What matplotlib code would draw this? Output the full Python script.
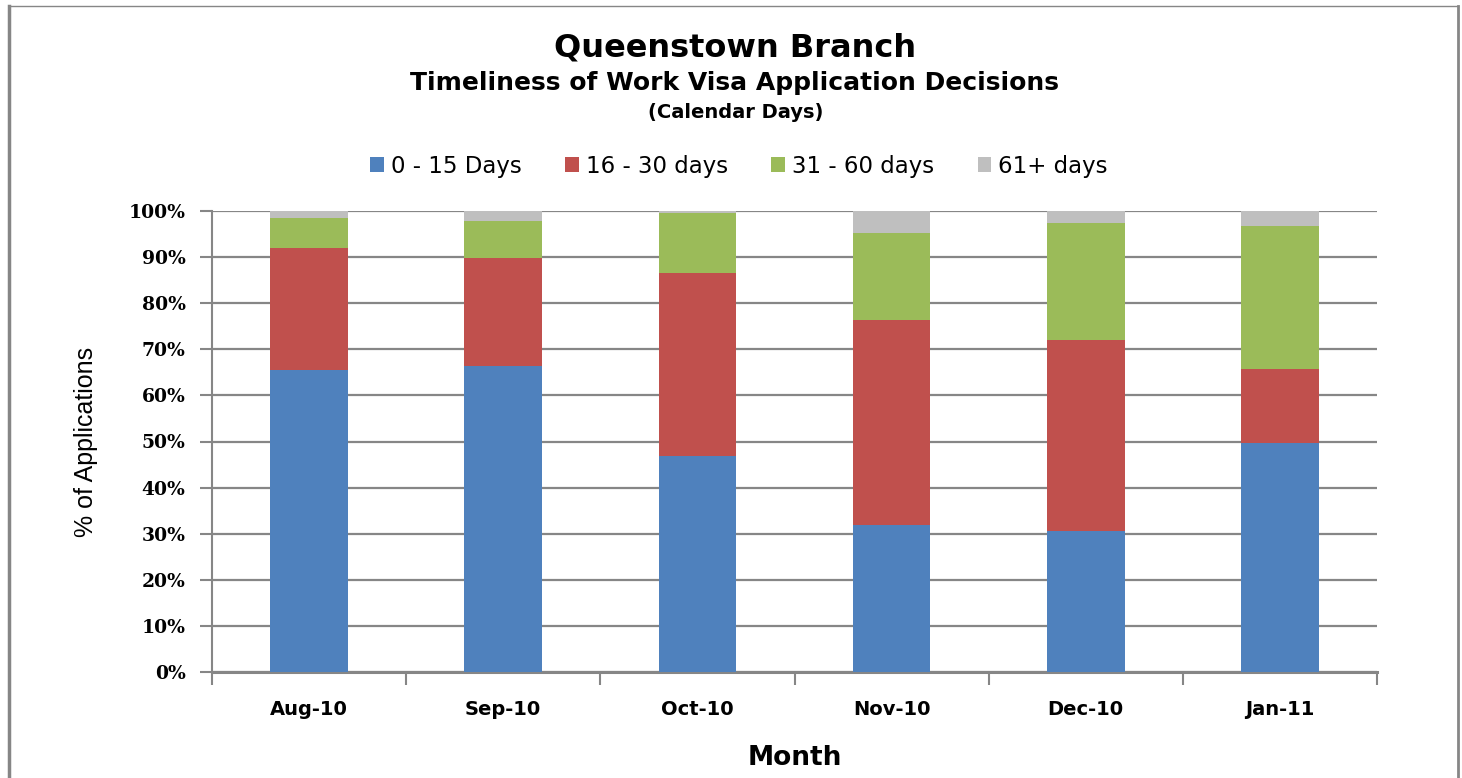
import matplotlib
matplotlib.use("Agg")
import matplotlib.pyplot as plt
from matplotlib.lines import Line2D
from matplotlib.patches import Patch
import numpy as np

months = ["Aug-10", "Sep-10", "Oct-10", "Nov-10", "Dec-10", "Jan-11"]
days_0_15 = [65.5, 66.4, 46.9, 31.9, 30.6, 49.7]
days_16_30 = [26.5, 23.4, 39.7, 44.5, 41.4, 16.0]
days_31_60 = [6.5, 8.0, 13.0, 18.8, 25.4, 31.0]
days_61_plus = [1.5, 2.2, 0.4, 4.8, 2.6, 3.3]

series = [
    ("0 - 15 Days", days_0_15, "#4F81BD"),
    ("16 - 30 days", days_16_30, "#C0504D"),
    ("31 - 60 days", days_31_60, "#9BBB59"),
    ("61+ days", days_61_plus, "#BFBFBF"),
]

grid_color = "#868686"
W, H = 1462, 778

fig = plt.figure(figsize=(W / 100, H / 100), dpi=100)
ax = fig.add_axes([212 / W, 1 - 672 / H, (1377 - 212) / W, (672 - 211) / H])

x = np.arange(len(months))
bottom = np.zeros(len(months))
for name, vals, color in series:
    ax.bar(x, vals, width=0.4, bottom=bottom, color=color, zorder=3)
    bottom += np.array(vals)

ax.set_xlim(-0.5, len(months) - 0.5)
ax.set_ylim(0, 100)
ax.set_yticks(np.arange(0, 101, 10))
ax.set_yticklabels([f"{v}%" for v in range(0, 101, 10)],
                   family="DejaVu Serif", fontweight="bold", fontsize=13.5)
ax.yaxis.grid(True, color=grid_color, linewidth=1.6, zorder=0)
ax.set_axisbelow(True)

ax.set_xticks(x)
ax.set_xticklabels(months, family="DejaVu Sans", fontweight="bold", fontsize=14)
ax.set_xticks(np.arange(-0.5, len(months), 1), minor=True)
ax.tick_params(axis="x", which="major", length=0, pad=20)
ax.tick_params(axis="x", which="minor", length=9, color=grid_color, width=1.5)
ax.tick_params(axis="y", length=9, color=grid_color, width=1.5, pad=10)

for side in ["top", "right"]:
    ax.spines[side].set_visible(False)
for side in ["left", "bottom"]:
    ax.spines[side].set_color(grid_color)
ax.spines["left"].set_linewidth(1.5)
ax.spines["bottom"].set_linewidth(2.2)

ax.set_ylabel("% of Applications", family="Liberation Sans", fontsize=18, labelpad=22)
ax.set_xlabel("Month", family="DejaVu Sans", fontweight="bold", fontsize=19, labelpad=19)

fig.text(735 / W, 1 - 48 / H, "Queenstown Branch", ha="center", va="center",
         family="DejaVu Sans", fontweight="bold", fontsize=23)
fig.text(735 / W, 1 - 83 / H, "Timeliness of Work Visa Application Decisions",
         ha="center", va="center", family="DejaVu Sans", fontweight="bold", fontsize=18)
fig.text(736 / W, 1 - 113 / H, "(Calendar Days)", ha="center", va="center",
         family="DejaVu Sans", fontweight="bold", fontsize=14)

handles = [Patch(facecolor=c, edgecolor="none") for _, _, c in series]
labels = [n for n, _, _ in series]
fig.legend(handles, labels, loc="center", bbox_to_anchor=(739 / W, 1 - 166 / H),
           ncol=4, frameon=False, prop={"family": "DejaVu Sans", "size": 16.5},
           handlelength=0.6, handleheight=0.6, handletextpad=0.3,
           columnspacing=1.9)

# outer chart border
fig.add_artist(Line2D([9 / W, 9 / W], [0, 1 - 6 / H], color=grid_color, lw=2.5))
fig.add_artist(Line2D([9 / W, 1458 / W], [1 - 6 / H, 1 - 6 / H], color=grid_color, lw=1))
fig.add_artist(Line2D([1458 / W, 1458 / W], [0, 1 - 6 / H], color=grid_color, lw=2))

fig.savefig("out.png", dpi=100)
